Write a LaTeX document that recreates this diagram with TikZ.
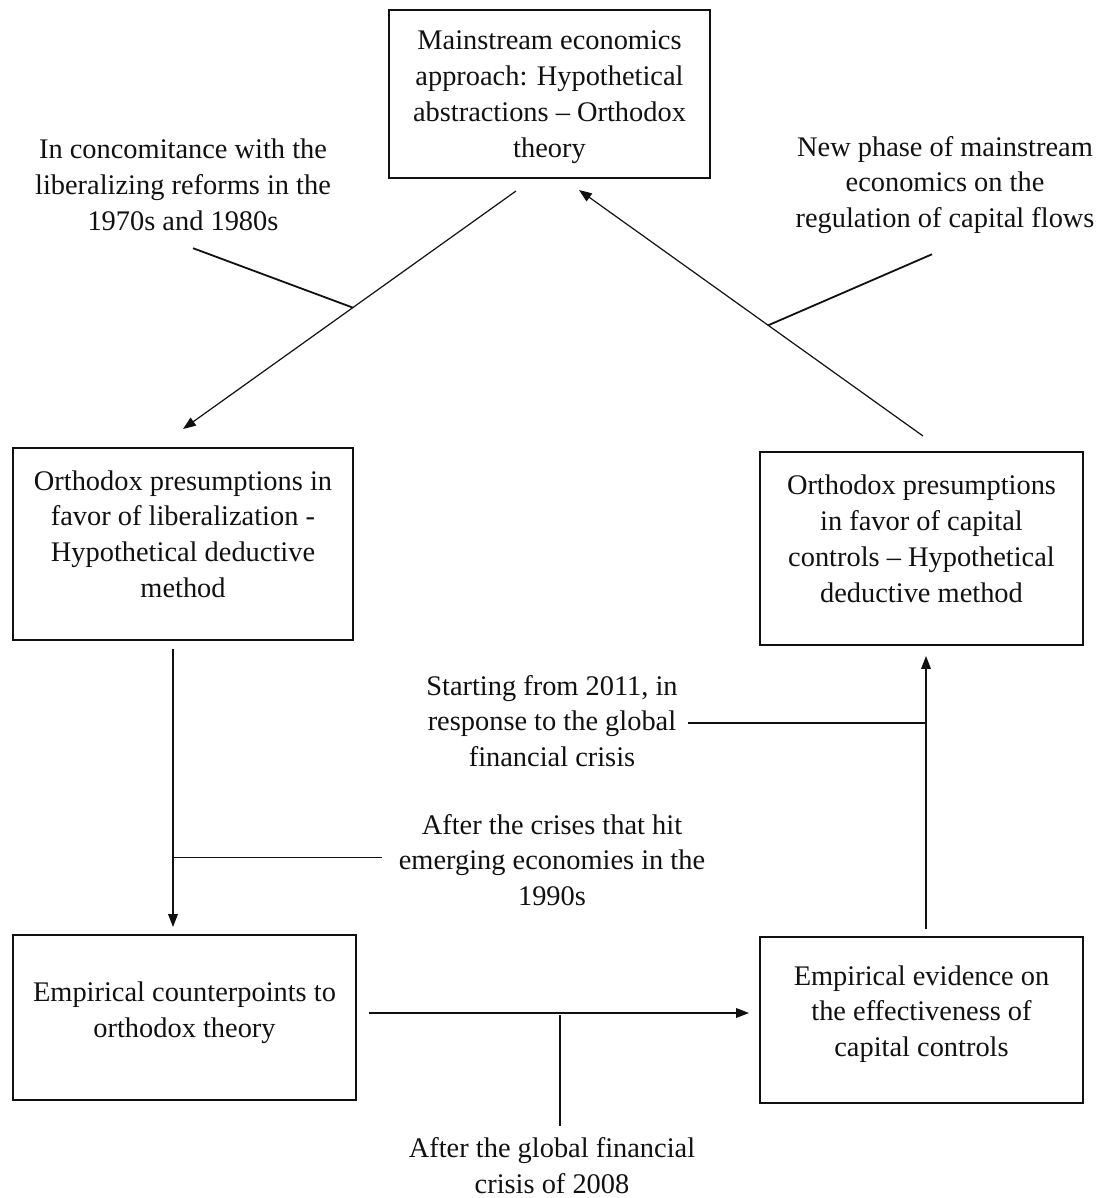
\documentclass[tikz,border=0pt]{standalone}
\usepackage{fontspec}
\setmainfont{Liberation Serif}
\usetikzlibrary{arrows.meta,positioning,calc}
\definecolor{ink}{HTML}{111111}
\tikzset{
  >={Triangle[length=6.4pt,width=4.8pt]},
  every node/.style={font=\fontsize{14.2pt}{17.9pt}\selectfont, text=ink},
  box/.style={draw=ink, line width=1pt, align=center, inner sep=0pt},
  note/.style={align=center, inner sep=2pt},
  flow/.style={->, draw=ink, line width=0.6pt},
  tie/.style={draw=ink, line width=0.9pt},
}

\begin{document}
\begin{tikzpicture}[x=0.5pt, y=-0.5pt]
\useasboundingbox (0,0) rectangle (1100,1198);

% ───────────── boxes ─────────────
\node[box, minimum width=160.5pt, minimum height=84pt, text depth=0pt] (theory) at (549.5,94) {Mainstream economics\\approach: Hypothetical\\abstractions -- Orthodox\\theory};
\node[box, minimum width=170pt, minimum height=96pt, text depth=10pt] (lib) at (183,544) {Orthodox presumptions in\\favor of liberalization -\\Hypothetical deductive\\method};
\node[box, minimum width=161.5pt, minimum height=96.5pt, text depth=10pt] (ctrl) at (921.5,548.5) {Orthodox presumptions\\in favor of capital\\controls -- Hypothetical\\deductive method};
\node[box, minimum width=171.5pt, minimum height=82.5pt, text depth=8pt] (counter) at (184.5,1017.5) {Empirical counterpoints to\\orthodox theory};
\node[box, minimum width=161.5pt, minimum height=83pt, text depth=9pt] (evid) at (921.5,1020) {Empirical evidence on\\the effectiveness of\\capital controls};

% ───────────── notes ─────────────
\node[note] (reform) at (183,185) {In concomitance with the\\liberalizing reforms in the\\1970s and 1980s};
\node[note] (phase) at (945,185) {New phase of mainstream\\economics on the\\regulation of capital flows};
\node[note] (since) at (552,721) {Starting from 2011, in\\response to the global\\financial crisis};
\node[note] (nineties) at (552,860) {After the crises that hit\\emerging economies in the\\1990s};
\node[note] (gfc) at (552,1166) {After the global financial\\crisis of 2008};

% ───────────── cycle ─────────────
\draw[flow] ($(theory.south)+(-33.5,12)$) -- coordinate[pos=0.49] (j1) ($(lib.north)+(0,-18)$);
\draw[flow] ($(lib.south)+(-10,8)$) -- coordinate[pos=0.75] (j4) ($(counter.north)+(-11.5,-7)$);
\draw[flow] ($(counter.east)+(12,-4.5)$) -- coordinate[pos=0.503] (j5) ($(evid.west)+(-10,-7)$);
\draw[flow] ($(evid.north)+(4.5,-7)$) -- coordinate[pos=0.756] (j3) ($(ctrl.south)+(4.5,10)$);
\draw[flow] ($(ctrl.north)+(1.5,-15)$) -- coordinate[pos=0.45] (j2) ($(theory.south)+(29.5,11)$);

% notes hooked onto the arrows
\draw[tie] ($(reform.south)+(10,13)$) -- (j1);
\draw[tie] ($(phase.south)+(-13,16)$) -- (j2);
\draw[tie] ($(j3 -| since.east)+(6,0)$) -- (j3);
\draw[tie] (j4) -- ($(j4 -| nineties.west)+(-12,0)$);
\draw[tie] ($(j5)+(0,2)$) -- ($(j5 |- gfc.north)+(0,-8)$);

\end{tikzpicture}
\end{document}
